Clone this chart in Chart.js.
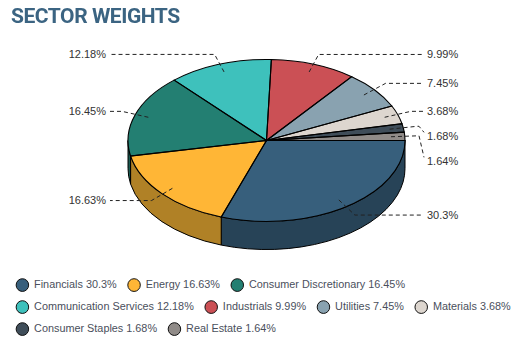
<!DOCTYPE html>
<html>
<head>
<meta charset="utf-8">
<title>Sector Weights</title>
<script src="https://cdn.jsdelivr.net/npm/chart.js@4/dist/chart.umd.min.js"></script>
<style>
    html, body { margin: 0; padding: 0; background: #fff; }
    #wrap { position: relative; width: 528px; height: 357px; overflow: hidden; }
    canvas { position: absolute; left: 0; top: 0; }
    #titulo {
        position: absolute; left: 11px; top: 4px; margin: 0;
        font: 700 21px/25px Roboto, sans-serif; color: #3b6482; letter-spacing: -0.45px;
    }
</style>
</head>
<body>
<div id="wrap">
    <canvas id="pieChart" width="528" height="357"></canvas>
    <h1 id="titulo">SECTOR WEIGHTS</h1>
</div>
<script>
const sectors = ['Financials', 'Energy', 'Consumer Discretionary', 'Communication Services',
    'Industrials', 'Utilities', 'Materials', 'Consumer Staples', 'Real Estate'];
const weights = [30.3, 16.63, 16.45, 12.18, 9.99, 7.45, 3.68, 1.68, 1.64];
const colors = ['#375f7c', '#ffb636', '#237f72', '#3ec1bc', '#cb5055', '#89a2b0', '#ddd6cf', '#3f4d59', '#908b88'];
const sideColors = ['#274357', '#b08126', '#195950', '#2b8784', '#8e383b', '#60717b', '#9b9691', '#2c363e', '#65615f'];

const RADIUS = 138.5;
const TILT = 0.585;      // alto/ancho de la elipse
const DEPTH = 28;
const LABEL_GAP = 25;    // separacion minima entre etiquetas

// pastel inclinado: paredes antes del dataset, contornos y guias despues
const pie3d = {
    id: 'pie3d',
    beforeDraw(chart) {
        chart.ctx.save();
        chart.ctx.fillStyle = '#fff';
        chart.ctx.fillRect(0, 0, chart.width, chart.height);
        chart.ctx.restore();
    },
    beforeDatasetsDraw(chart) {
        const ctx = chart.ctx;
        const arcs = chart.getDatasetMeta(0).data;
        const cx = arcs[0].x, cy = arcs[0].y;
        const ry = RADIUS * TILT;

        ctx.save();
        ctx.strokeStyle = '#000';
        ctx.lineWidth = 1;
        arcs.forEach((arc, i) => {
            const a0 = Math.max(arc.startAngle, 0);
            const a1 = Math.min(arc.endAngle, Math.PI);
            if (a1 <= a0) return;
            ctx.beginPath();
            ctx.ellipse(cx, cy, RADIUS, ry, 0, a0, a1);
            ctx.ellipse(cx, cy + DEPTH, RADIUS, ry, 0, a1, a0, true);
            ctx.closePath();
            ctx.fillStyle = sideColors[i];
            ctx.fill();
            ctx.stroke();
        });
        ctx.restore();

        ctx.save();
        ctx.translate(cx, cy);
        ctx.scale(1, TILT);
        ctx.translate(-cx, -cy);
    },
    afterDatasetsDraw(chart) {
        const ctx = chart.ctx;
        ctx.restore();

        const arcs = chart.getDatasetMeta(0).data;
        const cx = arcs[0].x, cy = arcs[0].y;
        const ry = RADIUS * TILT;

        ctx.save();
        ctx.strokeStyle = '#000';
        ctx.lineWidth = 1.1;
        arcs.forEach((arc) => {
            ctx.beginPath();
            ctx.moveTo(cx, cy);
            ctx.ellipse(cx, cy, RADIUS, ry, 0, arc.startAngle, arc.endAngle);
            ctx.closePath();
            ctx.stroke();
        });
        ctx.restore();

        // guias
        const guides = arcs.map((arc, i) => {
            const mid = (arc.startAngle + arc.endAngle) / 2;
            const cos = Math.cos(mid), sin = Math.sin(mid);
            return {
                i,
                right: cos >= 0,
                sx: cx + RADIUS * 0.9 * cos,
                sy: cy + ry * 0.9 * sin,
                ex: cx + RADIUS * 1.1 * cos,
                ey: cy + ry * 1.13 * sin
            };
        });

        ctx.save();
        ctx.font = '11px "Liberation Sans", Arial, sans-serif';
        ctx.textBaseline = 'middle';
        [true, false].forEach((right) => {
            const side = guides.filter((g) => g.right === right).sort((a, b) => a.ey - b.ey);
            let lastY = -Infinity;
            side.forEach((g) => {
                const labelY = Math.max(g.ey, lastY + LABEL_GAP);
                lastY = labelY;
                const dir = right ? 1 : -1;
                const endX = cx + dir * RADIUS * 1.13;

                ctx.beginPath();
                ctx.moveTo(g.sx, g.sy);
                ctx.lineTo(g.ex, g.ey);
                if (labelY > g.ey) {
                    ctx.lineTo(endX - dir * 4, g.ey);
                    ctx.lineTo(endX + dir, labelY - 4);
                } else {
                    ctx.lineTo(endX, labelY);
                }
                ctx.setLineDash([4, 3]);
                ctx.strokeStyle = '#222';
                ctx.lineWidth = 1;
                ctx.stroke();

                ctx.fillStyle = '#333';
                ctx.textAlign = right ? 'left' : 'right';
                ctx.fillText(weights[g.i] + '%', endX + dir * 4, labelY + 0.7);
            });
        });
        ctx.restore();
    }
};

const lienzo = document.getElementById('pieChart');
const chart = new Chart(lienzo.getContext('2d', { alpha: false }), {
    type: 'pie',
    data: {
        labels: sectors,
        datasets: [{
            data: weights,
            backgroundColor: colors,
            borderWidth: 0,
            clip: false
        }]
    },
    options: {
        responsive: false,
        animation: false,
        events: [],
        rotation: 90,
        radius: RADIUS,
        layout: { padding: { left: 5, right: 0, top: 12.5, bottom: 12.5 } },
        plugins: {
            tooltip: { enabled: false },
            legend: {
                position: 'bottom',
                align: 'start',
                labels: {
                    usePointStyle: true,
                    pointStyleWidth: 12.5,
                    boxHeight: 9,
                    padding: 11.15,
                    color: '#4a4f5c',
                    font: { family: '"Liberation Sans", Arial, sans-serif', size: 10.85 },
                    generateLabels: () => sectors.map((name, i) => ({
                        text: name + ' ' + weights[i] + '%',
                        fillStyle: colors[i],
                        strokeStyle: '#111',
                        lineWidth: 1,
                        pointStyle: 'circle',
                        fontColor: '#4a4f5c',
                        hidden: false,
                        index: i
                    }))
                }
            }
        }
    },
    plugins: [pie3d]
});
</script>
</body>
</html>
